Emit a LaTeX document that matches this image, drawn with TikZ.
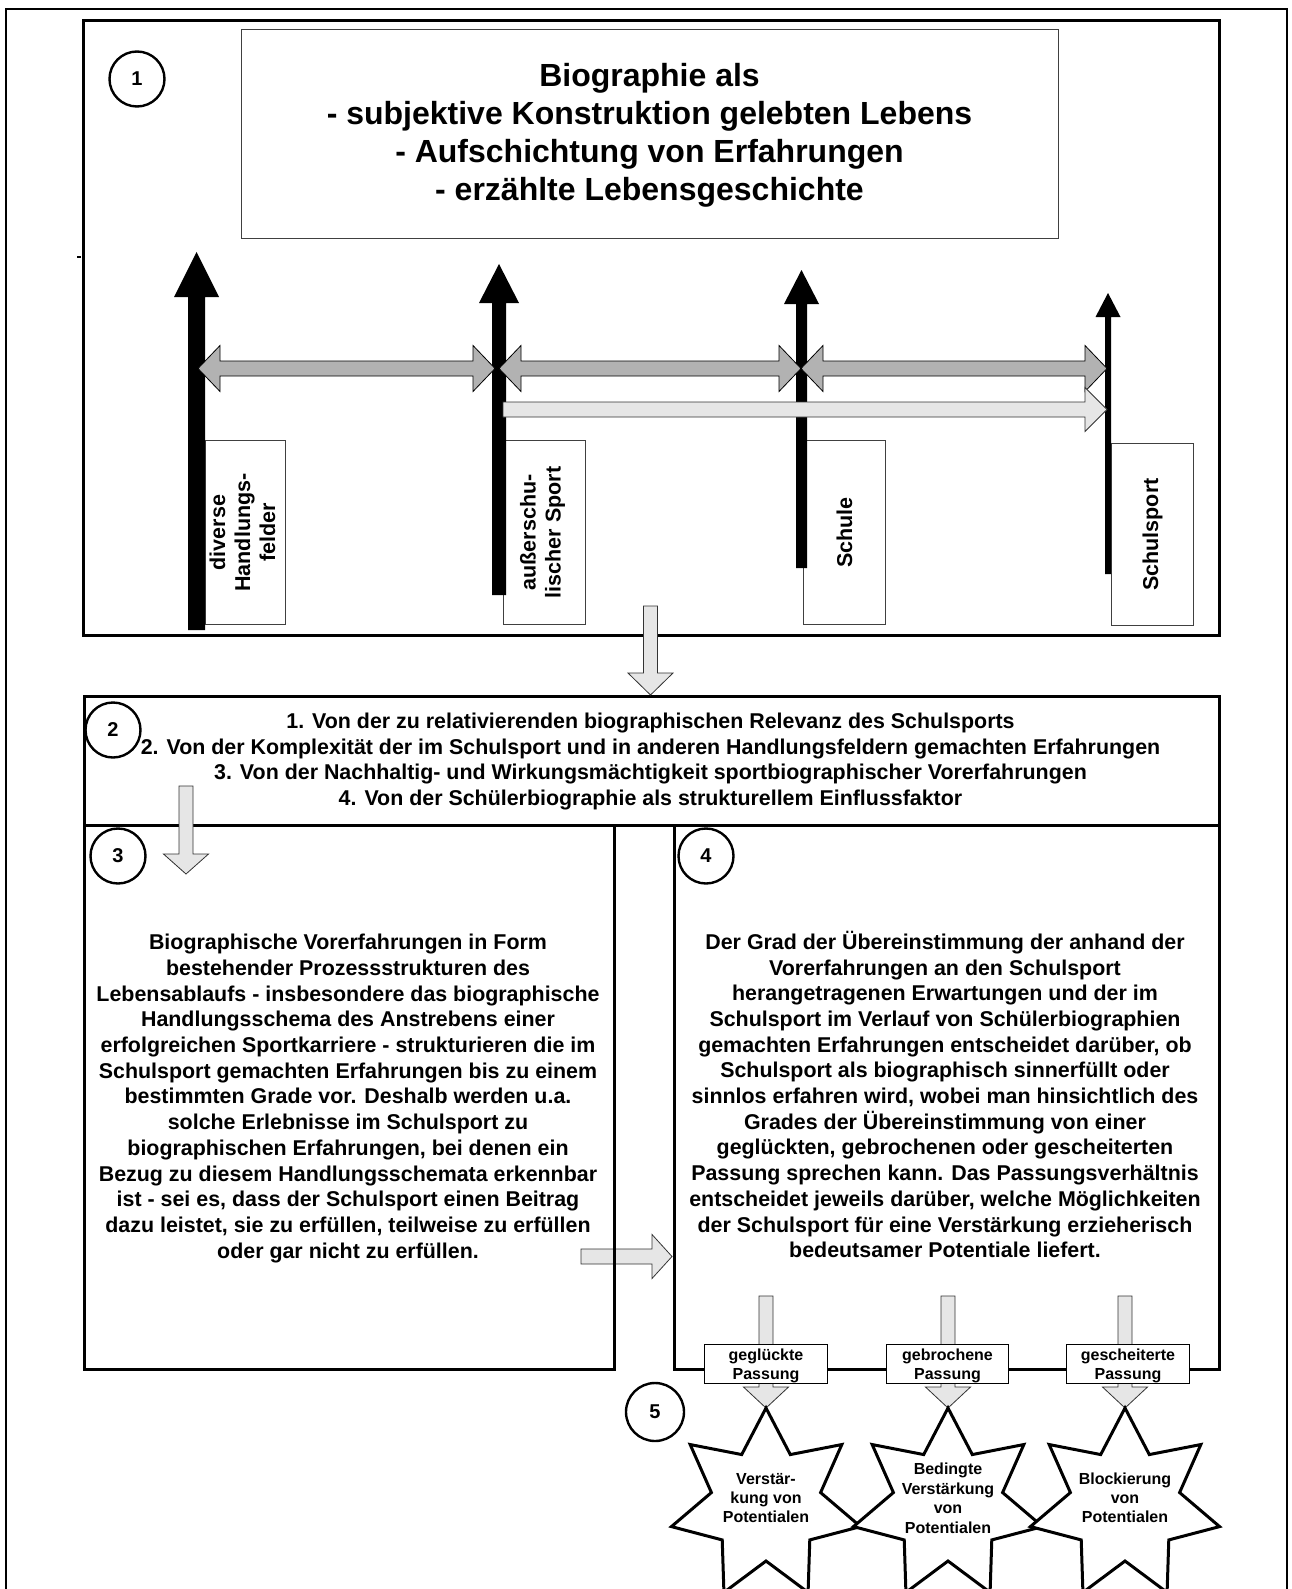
\documentclass[tikz,border=0pt]{standalone}
\usepackage{fontspec}
\setmainfont{Liberation Sans}
\usetikzlibrary{calc}
\definecolor{midgray}{RGB}{178,178,178}
\definecolor{palegray}{RGB}{230,230,230}
\tikzset{
  dblarr/.style={draw=black, line width=0.8pt, fill=midgray},
  lightarr/.style={draw=black!80, line width=0.8pt, fill=palegray},
  thickbox/.style={draw, line width=3pt, inner sep=0pt, anchor=north west},
  thinbox/.style={draw=black!75, line width=1pt, fill=white, inner sep=0pt, anchor=north west},
  numcirc/.style={circle, draw, line width=2.4pt, minimum size=55pt, inner sep=0pt, font=\bfseries\fontsize{20}{22}\selectfont},
  rotlabel/.style={rotate=90, align=center, inner sep=0pt, font=\bfseries\fontsize{21.5}{25}\selectfont},
  bodytext/.style={align=center, inner sep=0pt, font=\bfseries\fontsize{21.4}{25.7}\selectfont},
  smalltext/.style={align=center, inner sep=0pt, font=\bfseries\fontsize{16}{19}\selectfont},
  starline/.style={draw=black, line width=3pt, fill=white, line join=miter},
}
\newcommand\DblArrowH[3]{%
  \draw[dblarr] (#1,#3) -- ({#1+22},{#3-23}) -- ({#1+22},{#3-7.5}) -- ({#2-22},{#3-7.5}) -- ({#2-22},{#3-23}) -- (#2,#3) -- ({#2-22},{#3+23}) -- ({#2-22},{#3+7.5}) -- ({#1+22},{#3+7.5}) -- ({#1+22},{#3+23}) -- cycle;}
\newcommand\BlackUp[6]{%
  \fill[black] (#1,#3) -- ({#1+#5/2},#4) -- ({#1+#2/2},#4) -- ({#1+#2/2},#6) -- ({#1-#2/2},#6) -- ({#1-#2/2},#4) -- ({#1-#5/2},#4) -- cycle;}
\newcommand\LightDown[4]{%
  \draw[lightarr] ({#1-7},#2) -- ({#1+7},#2) -- ({#1+7},#3) -- ({#1+22.5},#3) -- (#1,#4) -- ({#1-22.5},#3) -- ({#1-7},#3) -- cycle;}
\newcommand\LightRight[5]{%
  \draw[lightarr] (#1,{#4-7.5}) -- (#2,{#4-7.5}) -- (#2,{#4-#5}) -- (#3,#4) -- (#2,{#4+#5}) -- (#2,{#4+7.5}) -- (#1,{#4+7.5}) -- cycle;}
\newcommand\SevenStar[4]{%
  \draw[starline] ({#1},{#2-#3}) \foreach \k in {0,...,6}{ -- ({#1+#4*cos(90+(\k+0.5)*360/7)},{#2-#4*sin(90+(\k+0.5)*360/7)}) -- ({#1+#3*cos(90+(\k+1)*360/7)},{#2-#3*sin(90+(\k+1)*360/7)}) } -- cycle;}
\begin{document}
\begin{tikzpicture}[x=1pt,y=-1pt]
\useasboundingbox (0,0) rectangle (1291,1589);
\clip (0,0) rectangle (1291,1589);
\fill[white] (0,0) rectangle (1291,1589);
% outer frame
\draw[line width=2pt] (6,1600) -- (6,9) -- (1287,9) -- (1287,1600);
% panel 1
\node[thickbox, minimum width=1136pt, minimum height=615pt] (box1) at (82,19) {};
\node[thinbox, minimum width=817pt, minimum height=209pt] (title) at (241,29) {};
\node[align=center, inner sep=0pt, font=\bfseries\fontsize{32}{38}\selectfont] (titletext) at (649.5,135) {Biographie als\\- subjektive Konstruktion gelebten Lebens\\- Aufschichtung von Erfahrungen\\- erzählte Lebensgeschichte};
\draw[line width=1.5pt] (77,257) -- (81,257);
% label boxes
\node[thinbox, minimum width=80pt, minimum height=184pt] (lbA) at (205,440) {};
\node[thinbox, minimum width=82pt, minimum height=184pt] (lbB) at (503,440) {};
\node[thinbox, minimum width=82pt, minimum height=184pt] (lbC) at (803,440) {};
\node[thinbox, minimum width=82pt, minimum height=182pt] (lbD) at (1111,443) {};
\node[rotlabel] (tA) at ([xshift=-3pt]lbA.center) {diverse\\Handlungs-\\felder};
\node[rotlabel] (tB) at ([xshift=-2pt]lbB.center) {außerschu-\\lischer Sport};
\node[rotlabel] (tC) at (lbC.center) {Schule};
\node[rotlabel] (tD) at (lbD.center) {Schulsport};
% black vertical arrows
\BlackUp{196.5}{17}{252}{297}{45}{630}
\BlackUp{499}{14}{264}{303}{40}{595}
\BlackUp{801.5}{11}{270}{304}{35}{568}
\BlackUp{1108}{6}{293}{317}{25}{574}
% grey double arrows
\DblArrowH{198}{495}{368.5}
\DblArrowH{499}{801}{368.5}
\DblArrowH{801}{1107}{368.5}
% light arrow
\LightRight{503}{1085}{1107}{409.5}{22}
\node[numcirc] (c1) at (137,79) {1};
% boxes 2-4
\LightRight{581}{652}{672}{1256.5}{22}
\node[thickbox, minimum width=1135pt, minimum height=129pt] (box2) at (83,695) {};
\node[thickbox, minimum width=530pt, minimum height=544pt] (box3) at (83,824) {};
\node[thickbox, minimum width=545pt, minimum height=544pt] (box4) at (673,824) {};
\LightDown{650.5}{606}{673}{695}
\LightDown{186}{786}{854}{874}
\node[numcirc] (c2) at (113,730) {2};
\node[numcirc] (c3) at (118,856) {3};
\node[numcirc] (c4) at (706,856) {4};
\node[bodytext, font=\bfseries\fontsize{21.4}{25.4}\selectfont] (t2) at (650.5,761.5) {1. Von der zu relativierenden biographischen Relevanz des Schulsports\\2. Von der Komplexität der im Schulsport und in anderen Handlungsfeldern gemachten Erfahrungen\\3. Von der Nachhaltig- und Wirkungsmächtigkeit sportbiographischer Vorerfahrungen\\4. Von der Schülerbiographie als strukturellem Einflussfaktor};
\node[bodytext] (t3) at (348,1098.5) {Biographische Vorerfahrungen in Form\\bestehender Prozessstrukturen des\\Lebensablaufs - insbesondere das biographische\\Handlungsschema des Anstrebens einer\\erfolgreichen Sportkarriere - strukturieren die im\\Schulsport gemachten Erfahrungen bis zu einem\\bestimmten Grade vor. Deshalb werden u.a.\\solche Erlebnisse im Schulsport zu\\biographischen Erfahrungen, bei denen ein\\Bezug zu diesem Handlungsschemata erkennbar\\ist - sei es, dass der Schulsport einen Beitrag\\dazu leistet, sie zu erfüllen, teilweise zu erfüllen\\oder gar nicht zu erfüllen.};
\node[bodytext] (t4) at (945,1094.5) {Der Grad der Übereinstimmung der anhand der\\Vorerfahrungen an den Schulsport\\herangetragenen Erwartungen und der im\\Schulsport im Verlauf von Schülerbiographien\\gemachten Erfahrungen entscheidet darüber, ob\\Schulsport als biographisch sinnerfüllt oder\\sinnlos erfahren wird, wobei man hinsichtlich des\\Grades der Übereinstimmung von einer\\geglückten, gebrochenen oder gescheiterten\\Passung sprechen kann. Das Passungsverhältnis\\entscheidet jeweils darüber, welche Möglichkeiten\\der Schulsport für eine Verstärkung erzieherisch\\bedeutsamer Potentiale liefert.};
% passung arrows
\LightDown{766}{1296}{1387}{1408}
\LightDown{948}{1296}{1387}{1408}
\LightDown{1125}{1296}{1387}{1408}
\node[thinbox, draw=black, minimum width=123pt, minimum height=39pt] (p1) at (704,1344) {};
\node[thinbox, draw=black, minimum width=122pt, minimum height=39pt] (p2) at (886,1344) {};
\node[thinbox, draw=black, minimum width=123pt, minimum height=39pt] (p3) at (1066,1344) {};
\node[smalltext] at ([yshift=-1.5pt]p1.center) {geglückte\\Passung};
\node[smalltext] at ([yshift=-1.5pt]p2.center) {gebrochene\\Passung};
\node[smalltext] at ([yshift=-1.5pt]p3.center) {gescheiterte\\Passung};
% stars
\SevenStar{766}{1505}{97}{56}
\SevenStar{948}{1505}{97}{56}
\SevenStar{1125}{1505}{97}{56}
\node[smalltext] (s1) at (766,1498) {Verstär-\\kung von\\Potentialen};
\node[smalltext, font=\bfseries\fontsize{16}{19.5}\selectfont] (s2) at (948,1498.5) {Bedingte\\Verstärkung\\von\\Potentialen};
\node[smalltext] (s3) at (1125,1498) {Blockierung\\von\\Potentialen};
\node[numcirc, minimum size=58pt] (c5) at (655,1412) {5};
\end{tikzpicture}
\end{document}
